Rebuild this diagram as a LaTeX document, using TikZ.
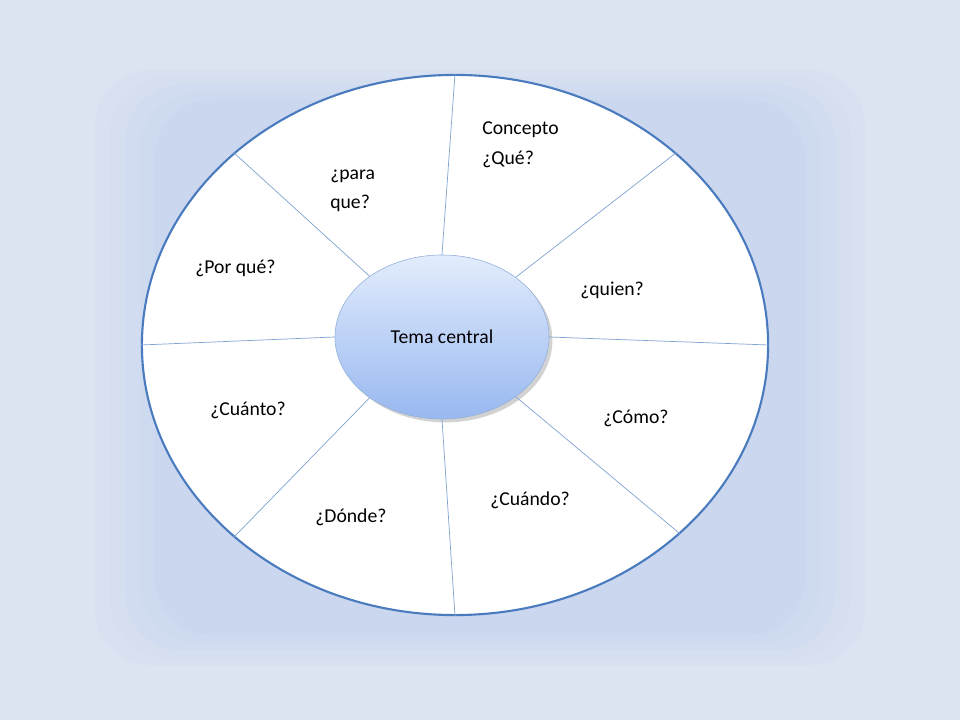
\documentclass[tikz,border=0pt]{standalone}
\usepackage{fontspec}
\setmainfont{Carlito}
\usetikzlibrary{shapes.geometric,shadows}
\definecolor{bgblue}{HTML}{DCE4F2}
\definecolor{glowblue}{HTML}{CAD7EE}
\definecolor{rimblue}{HTML}{4A7BBF}
\definecolor{topblue}{HTML}{E2ECFC}
\definecolor{botblue}{HTML}{98B8F0}
\begin{document}
\begin{tikzpicture}[x=0.025cm,y=-0.025cm,
    label/.style={anchor=west,align=left,inner sep=0pt,font=\fontsize{14}{21}\selectfont},
    spoke/.style={draw=rimblue!70,line width=0.5pt}]
    % background and soft glow
    \fill[bgblue] (0,0) rectangle (960,720);
    \foreach \d/\c in {0/20, 15/40, 30/60, 45/80, 60/100}
      \fill[glowblue!\c!bgblue, rounded corners=40] (95+\d,70+\d*0.5) rectangle (865-\d,665-\d*0.5);
    % outer ring
    \node[ellipse,draw=rimblue,line width=1.5pt,fill=white,
          minimum width=15.65cm,minimum height=13.5cm,inner sep=0pt] (rim) at (455,345) {};
    % center
    \node[ellipse,draw=rimblue!60,top color=topblue,bottom color=botblue,
          drop shadow={opacity=0.35},minimum width=5.35cm,minimum height=4.1cm,inner sep=0pt,
          font=\fontsize{14}{17}\selectfont] (theme) at (442,337) {Tema central};
    % spokes
    \foreach \a/\b in {90/90, 39.6/41.3, 0/0, -39.6/-40.8, -90/-90, -140.5/-139.4, 180/180, 140/139}
      \draw[spoke] (theme.\a) -- (rim.\b);
    % labels
    \node[label] (what) at (482,145) {Concepto\\¿Qué?};
    \node[label] (why1) at (330,191) {¿para\\que?};
    \node[label] (why2) at (195,268) {¿Por qué?};
    \node[label] (who) at (580,290) {¿quien?};
    \node[label] (much) at (210,410) {¿Cuánto?};
    \node[label] (how) at (603,418) {¿Cómo?};
    \node[label] (when) at (490,500) {¿Cuándo?};
    \node[label] (where) at (315,517) {¿Dónde?};
\end{tikzpicture}
\end{document}
